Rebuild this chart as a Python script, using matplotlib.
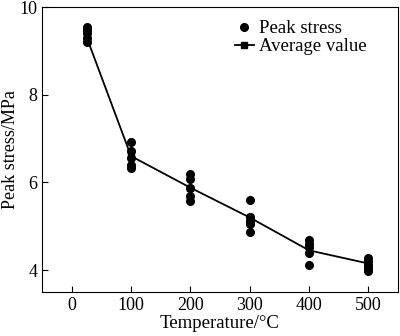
import matplotlib.pyplot as plt

plt.rcParams['font.family'] = ['Liberation Serif', 'DejaVu Serif']

temps = [25, 100, 200, 300, 400, 500]
peak_stress = [
    [9.55, 9.48, 9.40, 9.30, 9.20],
    [6.92, 6.72, 6.55, 6.40, 6.32],
    [6.20, 6.08, 5.88, 5.68, 5.57],
    [5.60, 5.20, 5.12, 5.05, 4.87],
    [4.68, 4.60, 4.52, 4.40, 4.12],
    [4.28, 4.20, 4.12, 4.05, 3.97],
]
average = [9.32, 6.60, 5.88, 5.20, 4.45, 4.15]

fig = plt.figure(figsize=(4, 3.36), dpi=100)
ax = fig.add_axes([0.105, 0.131, 0.89, 0.848])

xs = [t for t, vals in zip(temps, peak_stress) for _ in vals]
ys = [v for vals in peak_stress for v in vals]
ax.plot(xs, ys, 'o', color='black', markersize=5.5, label='Peak stress')
ax.plot(temps, average, '-s', color='black', markersize=4, linewidth=1.3,
        label='Average value')

ax.set_xlim(-50, 550)
ax.set_ylim(3.5, 10)
ax.set_xticks([0, 100, 200, 300, 400, 500])
ax.set_yticks([4, 6, 8, 10])
ax.tick_params(direction='in', labelsize=13, length=4)
ax.set_xlabel('Temperature/°C', fontsize=13.5, labelpad=1)
ax.set_ylabel('Peak stress/MPa', fontsize=13, labelpad=0)
ax.legend(loc='upper right', frameon=False, fontsize=13.5, handlelength=1.0,
          handletextpad=0.3, borderaxespad=0.3, labelspacing=0.05,
          bbox_to_anchor=(0.95, 1.0))

plt.savefig('out.png', dpi=100)
